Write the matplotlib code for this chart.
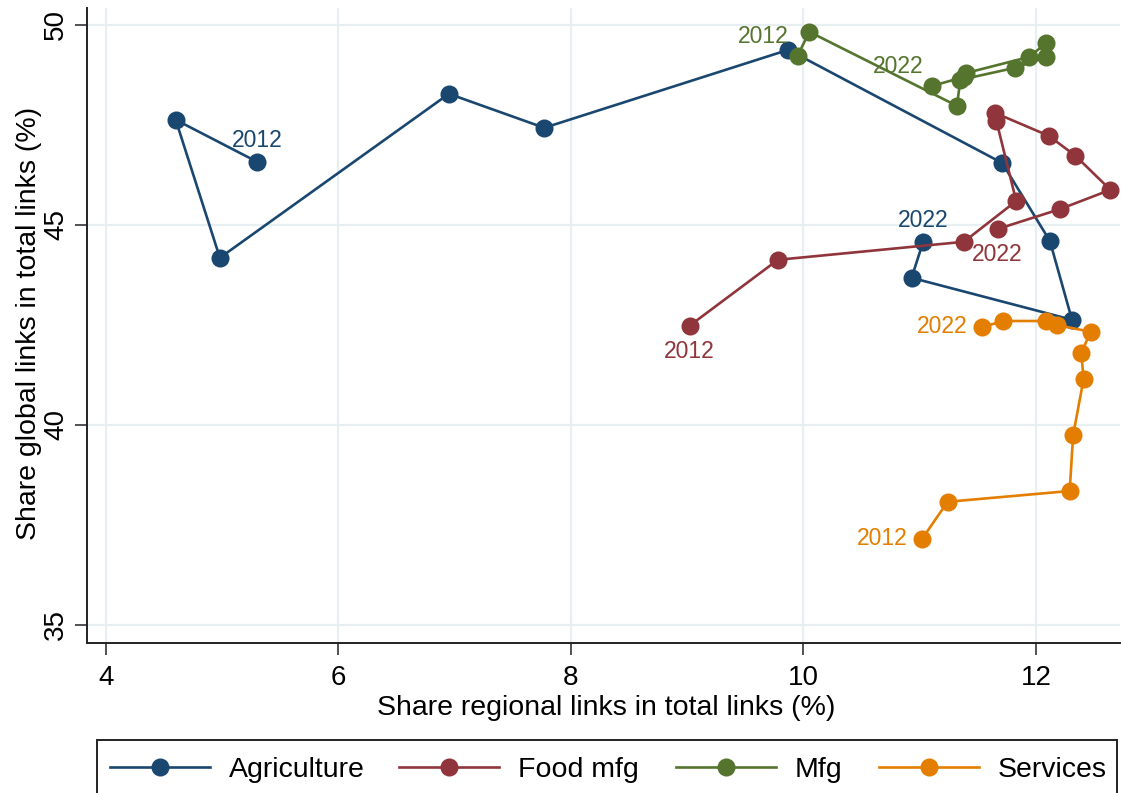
import matplotlib
matplotlib.use("Agg")
import matplotlib.pyplot as plt
from matplotlib.lines import Line2D
from matplotlib.patches import Rectangle

plt.rcParams['font.family'] = ['Liberation Sans', 'DejaVu Sans']

years = list(range(2012, 2023))

# Share of regional links (x) and global links (y) in total links, %, 2012-2022
agri_regional = [5.30, 4.60, 4.98, 6.95, 7.77, 9.87, 11.71, 12.12, 12.31, 10.93, 11.03]
agri_global = [46.58, 47.63, 44.18, 48.28, 47.43, 49.38, 46.55, 44.60, 42.63, 43.68, 44.58]

food_regional = [9.02, 9.78, 11.38, 11.83, 11.66, 11.65, 12.11, 12.34, 12.64, 12.21, 11.67]
food_global = [42.48, 44.13, 44.58, 45.60, 47.60, 47.80, 47.23, 46.73, 45.88, 45.40, 44.90]

mfg_regional = [9.95, 10.05, 11.32, 11.35, 11.82, 12.09, 12.09, 11.94, 11.40, 11.38, 11.11]
mfg_global = [49.23, 49.83, 47.98, 48.63, 48.93, 49.20, 49.55, 49.20, 48.80, 48.70, 48.48]

serv_regional = [11.02, 11.24, 12.29, 12.32, 12.41, 12.39, 12.47, 12.18, 12.09, 11.72, 11.54]
serv_global = [37.15, 38.08, 38.35, 39.75, 41.15, 41.80, 42.33, 42.50, 42.60, 42.60, 42.45]

series_names = ["Agriculture", "Food mfg", "Mfg", "Services"]
series_colors = ["#1a476f", "#90353b", "#55752f", "#e37e00"]

x_ticks = [4, 6, 8, 10, 12]
y_ticks = [35, 40, 45, 50]

# label offsets for the first/last year (pixels)
label_offsets = [(0, 21), (0, -26), (-34, 19), (-40, 0)]

W, H = 1122, 793
fig = plt.figure(figsize=(W / 100, H / 100), dpi=100)
ax = fig.add_axes([87 / W, 1 - 643 / H, (1120 - 87) / W, (643 - 8) / H])

ax.set_xlim(3.837, 12.723)
ax.set_ylim(34.55, 50.425)
ax.set_xticks(x_ticks)
ax.set_yticks(y_ticks)
ax.grid(True, color="#e8eff2", linewidth=1.6, zorder=0)
ax.set_axisbelow(True)

for side in ("top", "right"):
    ax.spines[side].set_visible(False)
for side in ("left", "bottom"):
    ax.spines[side].set_linewidth(1.4)
    ax.spines[side].set_color("#222222")

ax.tick_params(axis="both", length=8.6, width=1.1, color="#222222", labelsize=20)
ax.tick_params(axis="x", pad=7)
ax.tick_params(axis="y", pad=4.3, labelrotation=90)
for lab in ax.get_yticklabels():
    lab.set_va("center")

data = [
    (agri_regional, agri_global),
    (food_regional, food_global),
    (mfg_regional, mfg_global),
    (serv_regional, serv_global),
]

for i, ((xs, ys), name, col, off) in enumerate(zip(data, series_names, series_colors, label_offsets)):
    ax.plot(xs, ys, color=col, linewidth=1.9, marker="o", markersize=13,
            markeredgewidth=0, label=name, zorder=3 + i, clip_on=False)
    for idx in (0, -1):
        ax.annotate(str(years[idx]), (xs[idx], ys[idx]), xytext=off,
                    textcoords="offset pixels", ha="center", va="center",
                    color=col, fontsize=16.5, zorder=10)

fig.text(606 / W, 1 - 708 / H, "Share regional links in total links (%)",
         ha="center", va="center", fontsize=20.5)
fig.text(29 / W, 1 - 323 / H, "Share global links in total links (%)",
         ha="center", va="center", rotation=90, fontsize=20.5)

# legend frame and entries
fig.patches.append(Rectangle((97 / W, -0.02), (1117 - 97) / W, (1 - 740 / H) + 0.02,
                             transform=fig.transFigure, fill=False,
                             edgecolor="#222222", linewidth=1.4))
entry_x = [110, 399, 676, 879]
for name, col, ex in zip(series_names, series_colors, entry_x):
    h = Line2D([], [], color=col, linewidth=1.9, marker="o", markersize=13,
               markeredgewidth=0)
    fig.legend([h], [name], loc="center left", bbox_to_anchor=(ex / W, 1 - 770 / H),
               frameon=False, fontsize=20.5, handlelength=3.5, handletextpad=0.67,
               borderpad=0, borderaxespad=0)

fig.savefig("out.png", dpi=100)
